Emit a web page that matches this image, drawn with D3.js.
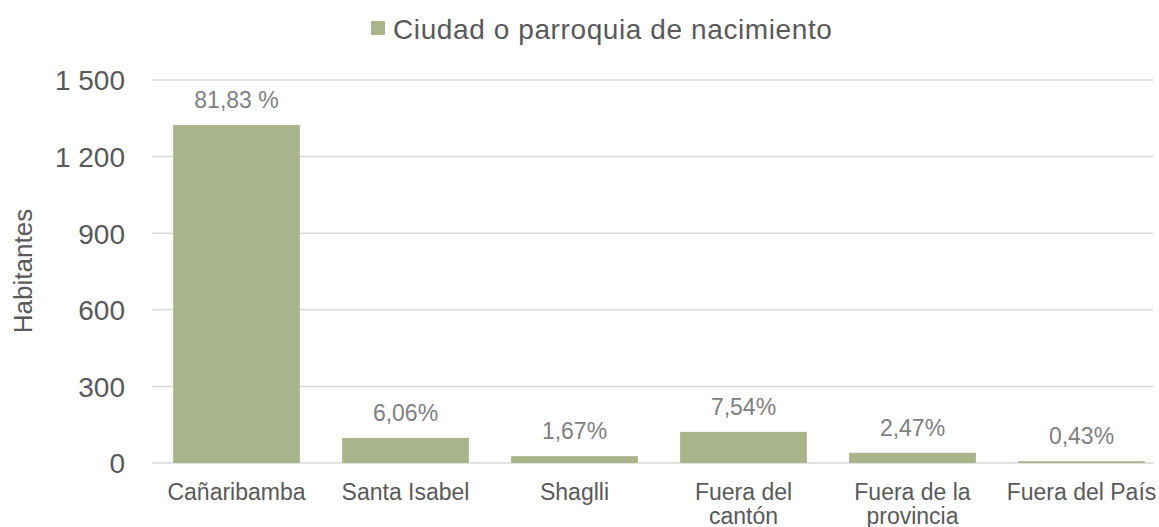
<!DOCTYPE html>
<html><head><meta charset="utf-8">
<script src="https://cdn.jsdelivr.net/npm/d3@7"></script>
<style>body{margin:0;background:#fff}svg{display:block;font-family:"Liberation Sans",Arial,sans-serif}</style>
</head><body><svg id="c" width="1159" height="527"></svg>
<script>
const categories = ["Cañaribamba", "Santa Isabel", "Shaglli", "Fuera del cantón", "Fuera de la provincia", "Fuera del País"];
const categoryLines = [["Cañaribamba"], ["Santa Isabel"], ["Shaglli"], ["Fuera del", "cantón"], ["Fuera de la", "provincia"], ["Fuera del País"]];
const values = [1324, 98, 27, 122, 40, 7];
const percentLabels = ["81,83 %", "6,06%", "1,67%", "7,54%", "2,47%", "0,43%"];
const yTicks = [0, 300, 600, 900, 1200, 1500];
const yTickLabels = ["0", "300", "600", "900", "1 200", "1 500"];
const seriesName = "Ciudad o parroquia de nacimiento";
const yTitle = "Habitantes";

const svg = d3.select("#c");
const barColor = "#a9b48a";
const x = d3.scaleBand().domain(categories).range([152, 1166]).paddingInner(0.25).paddingOuter(0.125);
const y = d3.scaleLinear().domain([0, 1500]).range([463, 80]);

// gridlines
svg.append("g").selectAll("line").data(yTicks).join("line")
  .attr("x1", 152).attr("x2", 1153)
  .attr("y1", d => y(d)).attr("y2", d => y(d))
  .attr("stroke", "#d9d9d9").attr("stroke-width", 1.5);

// y axis labels
const yAxis = d3.axisLeft(y).tickValues(yTicks).tickFormat((d, i) => yTickLabels[i]).tickSize(0).tickPadding(0);
const gy = svg.append("g").attr("transform", "translate(125,0)").call(yAxis);
gy.select(".domain").remove();
gy.selectAll("text").attr("font-size", 28).attr("fill", "#595959").attr("font-family", "Liberation Sans, Arial, sans-serif").attr("dy", "0.35em");

// bars
svg.append("g").selectAll("rect").data(values).join("rect")
  .attr("x", (d, i) => x(categories[i]))
  .attr("width", x.bandwidth())
  .attr("y", d => y(d))
  .attr("height", d => y(0) - y(d))
  .attr("fill", barColor);

// value labels
svg.append("g").selectAll("text").data(values).join("text")
  .attr("x", (d, i) => x(categories[i]) + x.bandwidth() / 2)
  .attr("y", d => y(d) - 17)
  .attr("text-anchor", "middle")
  .attr("font-size", 23).attr("fill", "#808080")
  .text((d, i) => percentLabels[i]);

// category labels
const cg = svg.append("g").selectAll("text").data(categories).join("text")
  .attr("x", d => x(d) + x.bandwidth() / 2)
  .attr("y", 500)
  .attr("text-anchor", "middle")
  .attr("font-size", 23).attr("fill", "#595959");
cg.each(function(d, i) {
  const t = d3.select(this);
  categoryLines[i].forEach((ln, j) => {
    t.append("tspan").attr("x", x(d) + x.bandwidth() / 2).attr("dy", j === 0 ? 0 : 24).text(ln);
  });
});

// y title
svg.append("text").attr("transform", "translate(32,271) rotate(-90)")
  .attr("text-anchor", "middle").attr("font-size", 26).attr("fill", "#595959").text(yTitle);

// legend
svg.append("rect").attr("x", 371).attr("y", 21).attr("width", 14).attr("height", 14).attr("fill", barColor);
svg.append("text").attr("x", 393).attr("y", 39).attr("font-size", 28).attr("letter-spacing", "0.6px")
  .attr("fill", "#595959").text(seriesName);
</script></body></html>
